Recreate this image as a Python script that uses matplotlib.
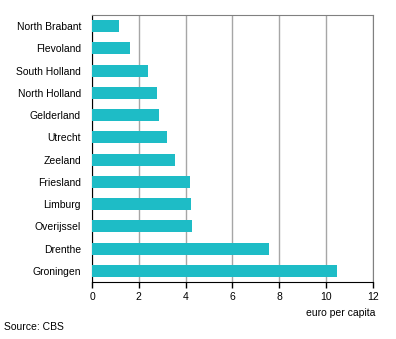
import matplotlib.pyplot as plt
import numpy as np

plt.rcParams['font.family'] = ['Liberation Sans', 'DejaVu Sans']

provinces = ['North Brabant', 'Flevoland', 'South Holland', 'North Holland', 'Gelderland',
             'Utrecht', 'Zeeland', 'Friesland', 'Limburg', 'Overijssel', 'Drenthe', 'Groningen']
values = [1.15, 1.62, 2.39, 2.78, 2.86, 3.2, 3.55, 4.19, 4.23, 4.27, 7.56, 10.47]
xticks = [0, 2, 4, 6, 8, 10, 12]

fig = plt.figure(figsize=(3.96, 3.39), dpi=100)
ax = fig.add_axes([92/396, 1 - 282/339, (373-92)/396, (282-15)/339])

y = np.arange(len(provinces))
ax.barh(y, values, height=0.54, color='#1ebcc6', zorder=3)
ax.set_ylim(len(provinces) - 0.5, -0.5)
ax.set_xlim(0, 12)
ax.set_xticks(xticks)
ax.set_yticks(y)
ax.set_yticklabels(provinces, fontsize=7.5)
ax.tick_params(axis='y', length=0, pad=8)
ax.tick_params(axis='x', length=4, width=1, direction='out', labelsize=7.5, pad=3)
ax.grid(axis='x', color='#a6a6a6', linewidth=1, zorder=0)
for s in ['top', 'right']:
    ax.spines[s].set_color('#808080')
for s in ['left', 'bottom']:
    ax.spines[s].set_color('black')

fig.text(375/396, 1 - 313/339, 'euro per capita', ha='right', va='center', fontsize=7.5)
fig.text(4/396, 1 - 327/339, 'Source: CBS', ha='left', va='center', fontsize=7.5)

fig.savefig('out.png', dpi=100)
